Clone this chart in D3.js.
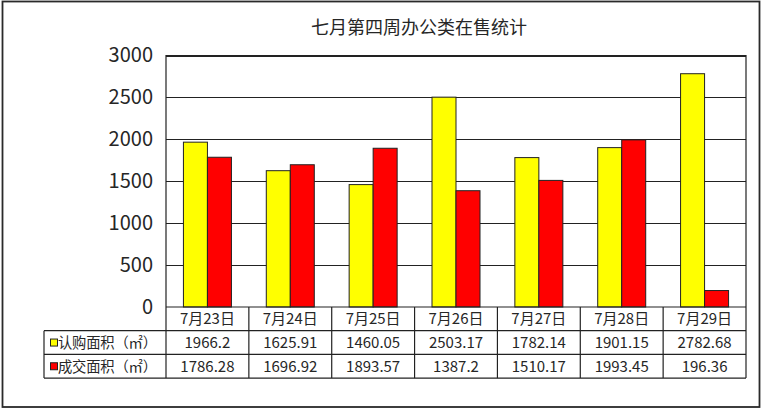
<!DOCTYPE html>
<html><head><meta charset="utf-8">
<script src="https://cdn.jsdelivr.net/npm/d3@7"></script>
<style>
html,body{margin:0;padding:0;background:#fff;}
svg{display:block;font-family:"Noto Sans CJK SC","Noto Sans",sans-serif;}
</style></head>
<body><svg id="c" width="763" height="412"></svg>
<script>
const title = "七月第四周办公类在售统计";
const categories = ["7月23日","7月24日","7月25日","7月26日","7月27日","7月28日","7月29日"];
const seriesNames = ["认购面积（㎡）","成交面积（㎡）"];
const subscribed = [1966.2,1625.91,1460.05,2503.17,1782.14,1901.15,2782.68];
const dealt = [1786.28,1696.92,1893.57,1387.2,1510.17,1993.45,196.36];
const subscribedLabels = ["1966.2","1625.91","1460.05","2503.17","1782.14","1901.15","2782.68"];
const dealtLabels = ["1786.28","1696.92","1893.57","1387.2","1510.17","1993.45","196.36"];
const yTicks = [0,500,1000,1500,2000,2500,3000];
const colors = ["#FFFF00","#FF0000"];

const svg = d3.select("#c");
const L = 166, R = 746, T = 55.5, B = 307;
const rowH = 23.7, tableLeft = 44;

// outer frame
svg.append("rect").attr("x",2.5).attr("y",1.5).attr("width",757).attr("height",405.5)
  .attr("fill","#fff").attr("stroke","#2a2a2a").attr("stroke-width",1.8);

const x = d3.scaleBand().domain(categories).range([L,R]).paddingInner(0).paddingOuter(0);
const y = d3.scaleLinear().domain([0,3000]).range([B,T]);

// title
svg.append("text").attr("x",419).attr("y",34).attr("text-anchor","middle")
  .attr("font-size",18).attr("fill","#262626").text(title);

// gridlines
svg.append("g").selectAll("line").data(yTicks.slice(1)).join("line")
  .attr("x1",L).attr("x2",R).attr("y1",d=>Math.round(y(d))+0.5).attr("y2",d=>Math.round(y(d))+0.5)
  .attr("stroke","#222").attr("stroke-width",1);

// y axis labels
const ya = d3.axisLeft(y).tickValues(yTicks).tickSize(0).tickPadding(13).tickFormat(d3.format("d"));
const yg = svg.append("g").attr("transform",`translate(${L},0)`).call(ya);
yg.select(".domain").remove();
yg.selectAll("text").attr("font-size",20).attr("fill","#262626").attr("font-family","'Noto Sans CJK SC',sans-serif");

// bars
const bw = 24;
const groupOffset = (x.bandwidth() - 2*bw)/2;
const series = [subscribed, dealt];
series.forEach((vals,si)=>{
  svg.append("g").selectAll("rect").data(vals).join("rect")
    .attr("x",(d,i)=>x(categories[i]) + groupOffset + si*bw)
    .attr("y",d=>y(d)).attr("width",bw).attr("height",d=>B-y(d))
    .attr("fill",colors[si]).attr("stroke","#222").attr("stroke-width",1);
});

// plot border (left, top, right)
svg.append("path").attr("d",`M${L},${B}V${T}H${R}V${B}`).attr("fill","none")
  .attr("stroke","#222").attr("stroke-width",1.2);

// table
const tg = svg.append("g").attr("stroke","#222").attr("stroke-width",1.2).attr("fill","none");
const rows = [B, B+rowH, B+2*rowH, B+3*rowH];
tg.append("line").attr("x1",L).attr("x2",R).attr("y1",rows[0]).attr("y2",rows[0]);
[1,2,3].forEach(r=>tg.append("line").attr("x1",tableLeft).attr("x2",R).attr("y1",rows[r]).attr("y2",rows[r]));
tg.append("line").attr("x1",tableLeft).attr("x2",tableLeft).attr("y1",rows[1]).attr("y2",rows[3]);
categories.forEach(c=>tg.append("line").attr("x1",x(c)).attr("x2",x(c)).attr("y1",rows[0]).attr("y2",rows[3]));
tg.append("line").attr("x1",R).attr("x2",R).attr("y1",rows[0]).attr("y2",rows[3]);

const fs = 15;
svg.append("g").selectAll("text").data(categories).join("text")
  .attr("x",d=>x(d)+x.bandwidth()/2).attr("y",rows[0]+rowH/2+5.5)
  .attr("text-anchor","middle").attr("font-size",fs).attr("fill","#262626").text(d=>d);
[subscribedLabels, dealtLabels].forEach((labs,si)=>{
  svg.append("g").selectAll("text").data(labs).join("text")
    .attr("x",(d,i)=>x(categories[i])+x.bandwidth()/2).attr("y",rows[si+1]+rowH/2+5.5)
    .attr("text-anchor","middle").attr("font-size",fs).attr("fill","#262626").text(d=>d);
  svg.append("rect").attr("x",50.5).attr("y",rows[si+1]+rowH/2-3.5).attr("width",7).attr("height",7)
    .attr("fill",colors[si]).attr("stroke","#222").attr("stroke-width",1);
  svg.append("text").attr("x",58).attr("y",rows[si+1]+rowH/2+5.5)
    .attr("font-size",14.3).attr("fill","#262626")
    .attr("textLength",99).attr("lengthAdjust","spacing").text(seriesNames[si]);
});
</script></body></html>
